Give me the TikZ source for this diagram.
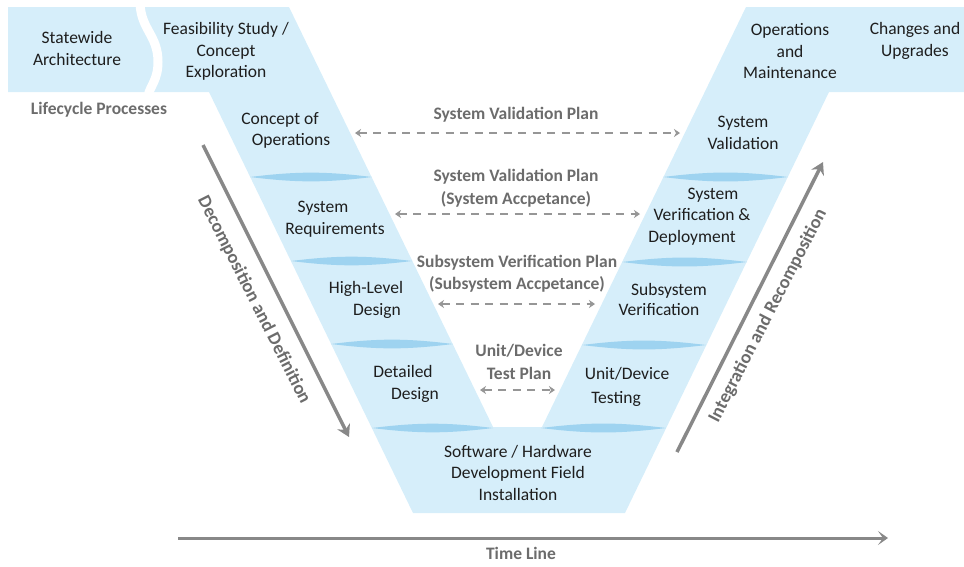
\documentclass[tikz,border=0pt]{standalone}
\usepackage{fontspec}
\setmainfont{Carlito}
\usetikzlibrary{arrows.meta}

\definecolor{vfill}{RGB}{214,238,250}
\definecolor{vsep}{RGB}{158,211,240}
\definecolor{ink}{RGB}{30,30,30}
\definecolor{plangray}{RGB}{108,108,108}
\definecolor{flowgray}{RGB}{136,136,136}
\definecolor{dashgray}{RGB}{150,150,150}

% thin lens that separates two stages on an arm: x-left, x-right, y
\newcommand\stagesep[3]{\fill[vsep] (#1,#3) to[bend left=7] (#2,#3) to[bend left=7] (#1,#3);}

\tikzset{
  stage/.style={text=ink, font=\fontsize{17.5}{21.5}\selectfont, inner sep=0pt, anchor=mid},
  stagebox/.style={text=ink, font=\fontsize{17.5}{21.5}\selectfont, inner sep=0pt, align=center},
  plan/.style={text=plangray, font=\fontsize{17.5}{22.5}\selectfont\bfseries, inner sep=0pt, align=center},
  flowlabel/.style={text=plangray, font=\fontsize{18.5}{22}\selectfont\bfseries, inner sep=0pt},
  flowarrow/.style={draw=flowgray, line width=3.5pt, -{Stealth[length=12pt,width=14pt,inset=4pt]}},
  planarrow/.style={draw=dashgray, line width=2.5pt, dash pattern=on 8pt off 6.5pt,
    {Stealth[length=6pt,width=8pt,inset=2pt]}-{Stealth[length=6pt,width=8pt,inset=2pt]}},
}

\begin{document}
\begin{tikzpicture}[x=1pt,y=-1pt]
\useasboundingbox (0,0) rectangle (964,566);

% the V band with its two top wings
\fill[vfill] (8,7) -- (289,7) -- (493,427) -- (542,427) -- (746,7) -- (964,7)
  -- (964,92) -- (829,92) -- (625,513) -- (413,513) -- (209,92) -- (8,92) -- cycle;

% S-shaped gap between the first two top blocks
\draw[white, line width=9pt] (140,3) .. controls (141,30) and (158,35) .. (158,62)
  .. controls (158,80) and (150,86) .. (148,96);

% stage separators, left arm
\stagesep{250}{372}{177}
\stagesep{291}{412}{261}
\stagesep{331}{453}{344}
\stagesep{372}{493}{428}
% stage separators, right arm
\stagesep{663}{788}{177}
\stagesep{622}{747}{262}
\stagesep{582}{706}{345}
\stagesep{541}{666}{428}

% top blocks
\node[stagebox] (statewide) at (77,48.5) {Statewide\\Architecture};
\node[stagebox] (feasibility) at (226,51.5) {Feasibility Study /\\Concept\\Exploration};
\node[stagebox] (operations) at (790,51.5) {Operations\\and\\Maintenance};
\node[stagebox] (changes) at (915,41) {Changes and\\Upgrades};

% left arm
\node[stage] (conops1) at (280,122) {Concept of};
\node[stage] (conops2) at (291,143) {Operations};
\node[stage] (sysreq1) at (323,210) {System};
\node[stage] (sysreq2) at (335,232) {Requirements};
\node[stage] (hld1) at (366,291) {High-Level};
\node[stage] (hld2) at (377,313) {Design};
\node[stage] (detail1) at (403,375) {Detailed};
\node[stage] (detail2) at (415,397) {Design};

% bottom block
\node[stagebox] (build) at (518,472.5) {Software / Hardware\\Development Field\\Installation};

% right arm
\node[stage] (unit1) at (627,377) {Unit/Device};
\node[stage] (unit2) at (616,401) {Testing};
\node[stage] (subsys1) at (669,293) {Subsystem};
\node[stage] (subsys2) at (659,313) {Verification};
\node[stage] (sysver1) at (713,197) {System};
\node[stage] (sysver2) at (702,218) {Verification \&};
\node[stage] (sysver3) at (692,240) {Deployment};
\node[stagebox] (sysval) at (743,133) {System\\Validation};

% plan labels
\node[plan] (lifecycle) at (99,110) {Lifecycle Processes};
\node[plan] (plan1) at (516,115) {System Validation Plan};
\node[plan] (plan2) at (516,188) {System Validation Plan\\(System Accpetance)};
\node[plan] (plan3) at (517,273.5) {Subsystem Verification Plan\\(Subsystem Accpetance)};
\node[plan] (plan4) at (519,362) {Unit/Device\\Test Plan};

% dashed traceability arrows between the two arms
\coordinate (p1l) at (355,133); \coordinate (p1r) at (680,133);
\coordinate (p2l) at (395,214); \coordinate (p2r) at (640,214);
\coordinate (p3l) at (438,304); \coordinate (p3r) at (595,304);
\coordinate (p4l) at (480,390); \coordinate (p4r) at (555,390);
\draw[planarrow] (p1l) -- (p1r);
\draw[planarrow] (p2l) -- (p2r);
\draw[planarrow] (p3l) -- (p3r);
\draw[planarrow] (p4l) -- (p4r);

% decomposition and integration arrows
\coordinate (dtop) at (203,145); \coordinate (dbot) at (349,437);
\draw[flowarrow] (dtop) -- (dbot);
\node[flowlabel, rotate=-63.2] (decomp) at (254,300) {Decomposition and Definition};

\coordinate (ibot) at (677,452); \coordinate (itop) at (823,162);
\draw[flowarrow] (ibot) -- (itop);
\node[flowlabel, rotate=62.7] (integ) at (768,316) {Integration and Recomposition};

% time line
\coordinate (t0) at (178,538); \coordinate (t1) at (888,538);
\draw[draw=flowgray, line width=3pt, -{Stealth[length=10pt,width=14pt,inset=5pt]}] (t0) -- (t1);
\node[plan] (timeline) at (521,553) {Time Line};
\end{tikzpicture}
\end{document}
